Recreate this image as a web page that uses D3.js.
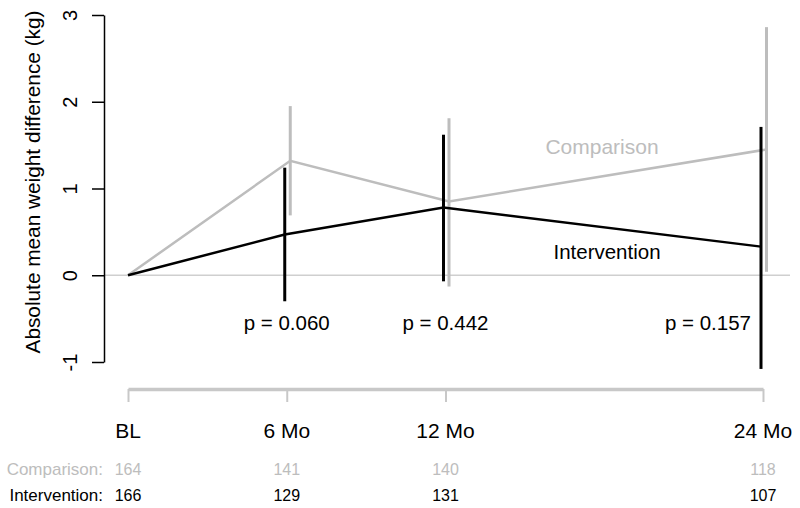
<!DOCTYPE html>
<html>
<head>
<meta charset="utf-8">
<script src="https://cdn.jsdelivr.net/npm/d3@7"></script>
<style>
  body { margin: 0; background: #fff; }
  text { font-family: "Liberation Sans", Arial, sans-serif; }
</style>
</head>
<body>
<div id="chart"></div>
<script>
// time points (months) and their labels
var months = [0, 6, 12, 24]
var tickLabels = ["BL", "6 Mo", "12 Mo", "24 Mo"]

// comparison group: mean and interval
var compMean = [0, 1.32, 0.85, 1.45]
var compLower = [null, 0.69, -0.13, 0.04]
var compUpper = [null, 1.95, 1.81, 2.86]

// intervention group: mean and interval
var intMean = [0, 0.47, 0.78, 0.33]
var intLower = [null, -0.30, -0.07, -1.08]
var intUpper = [null, 1.24, 1.62, 1.71]

var pLabels = ["", "p = 0.060", "p = 0.442", "p = 0.157"]
var compN = [164, 141, 140, 118]
var intN = [166, 129, 131, 107]
var yTicks = [-1, 0, 1, 2, 3]

var w = 800
var h = 508
var grey = "#bdbdbd"

var svg = d3.select("#chart")
            .append("svg")
            .attr("width", w)
            .attr("height", h)

var x = d3.scaleLinear().domain([0, 24]).range([128, 763])
var y = d3.scaleLinear().domain([-1, 3]).range([362, 15])

// small horizontal offsets so the bars don't overlap
var compShift = 3.5
var intShift = -2

// zero reference line
svg.append("line")
   .attr("x1", 104).attr("x2", 790)
   .attr("y1", y(0)).attr("y2", y(0))
   .attr("stroke", "#cfcfcf")
   .attr("stroke-width", 1.5)

// y axis
var yAxis = svg.append("g")
   .attr("transform", "translate(104,0)")
   .call(d3.axisLeft(y).tickValues(yTicks).tickSize(12).tickSizeOuter(0).tickFormat(function(d) { return String(d) }))
yAxis.select(".domain").attr("stroke-width", 1.5)
yAxis.selectAll(".tick line").attr("stroke-width", 1.5)
yAxis.selectAll(".tick text")
   .attr("x", 0).attr("dy", 0).attr("y", 0)
   .attr("transform", "translate(-27,0) rotate(-90)")
   .attr("text-anchor", "middle")
   .attr("font-size", "20px")
   .attr("fill", "#000")

svg.append("text")
   .attr("transform", "translate(40,182) rotate(-90)")
   .attr("text-anchor", "middle")
   .attr("font-size", "20.8px")
   .text("Absolute mean weight difference (kg)")

// x axis (grey)
var xAxis = svg.append("g")
   .attr("transform", "translate(0,389)")
   .call(d3.axisBottom(x).tickValues(months).tickSize(13).tickSizeOuter(0).tickFormat(""))
xAxis.select(".domain").attr("stroke", "#c8c8c8").attr("stroke-width", 3.5)
xAxis.selectAll(".tick line").attr("stroke", "#c8c8c8").attr("stroke-width", 2)

svg.selectAll(".xlab")
   .data(months)
   .enter()
   .append("text")
   .attr("class", "xlab")
   .attr("x", function(d) { return x(d) })
   .attr("y", 438)
   .attr("text-anchor", "middle")
   .attr("font-size", "21px")
   .text(function(d, i) { return tickLabels[i] })

// error bars
function bars(lower, upper, shift, color, cls) {
  var idx = d3.range(months.length).filter(function(i) { return lower[i] !== null })
  svg.selectAll("." + cls)
     .data(idx)
     .enter()
     .append("line")
     .attr("class", cls)
     .attr("x1", function(i) { return x(months[i]) + shift })
     .attr("x2", function(i) { return x(months[i]) + shift })
     .attr("y1", function(i) { return y(lower[i]) })
     .attr("y2", function(i) { return y(upper[i]) })
     .attr("stroke", color)
     .attr("stroke-width", 3)
}
bars(compLower, compUpper, compShift, grey, "cbar")

var line = d3.line()

svg.append("path")
   .attr("d", line(months.map(function(m, i) { return [x(m) + (i ? compShift : 0), y(compMean[i])] })))
   .attr("fill", "none")
   .attr("stroke", grey)
   .attr("stroke-width", 2.5)

bars(intLower, intUpper, intShift, "#000", "ibar")

svg.append("path")
   .attr("d", line(months.map(function(m, i) { return [x(m) + (i ? intShift : 0), y(intMean[i])] })))
   .attr("fill", "none")
   .attr("stroke", "#000")
   .attr("stroke-width", 2.5)

// series labels
svg.append("text")
   .attr("x", 602).attr("y", 154)
   .attr("text-anchor", "middle")
   .attr("font-size", "21px")
   .attr("fill", grey)
   .text("Comparison")

svg.append("text")
   .attr("x", 607).attr("y", 259)
   .attr("text-anchor", "middle")
   .attr("font-size", "20.5px")
   .text("Intervention")

// p values
svg.selectAll(".pval")
   .data([1, 2, 3])
   .enter()
   .append("text")
   .attr("class", "pval")
   .attr("x", function(i) { return i === 3 ? x(months[i]) - 12 : x(months[i]) })
   .attr("y", 330)
   .attr("text-anchor", function(i) { return i === 3 ? "end" : "middle" })
   .attr("font-size", "20.5px")
   .text(function(i) { return pLabels[i] })

// numbers at risk
svg.append("text").attr("x", 103).attr("y", 475).attr("text-anchor", "end")
   .attr("font-size", "17px").attr("fill", grey).text("Comparison:")
svg.append("text").attr("x", 103).attr("y", 501).attr("text-anchor", "end")
   .attr("font-size", "17px").text("Intervention:")

svg.selectAll(".ncomp")
   .data(compN)
   .enter()
   .append("text")
   .attr("class", "ncomp")
   .attr("x", function(d, i) { return x(months[i]) })
   .attr("y", 475)
   .attr("text-anchor", "middle")
   .attr("font-size", "16px")
   .attr("fill", grey)
   .text(function(d) { return d })

svg.selectAll(".nint")
   .data(intN)
   .enter()
   .append("text")
   .attr("class", "nint")
   .attr("x", function(d, i) { return x(months[i]) })
   .attr("y", 501)
   .attr("text-anchor", "middle")
   .attr("font-size", "16px")
   .text(function(d) { return d })
</script>
</body>
</html>
